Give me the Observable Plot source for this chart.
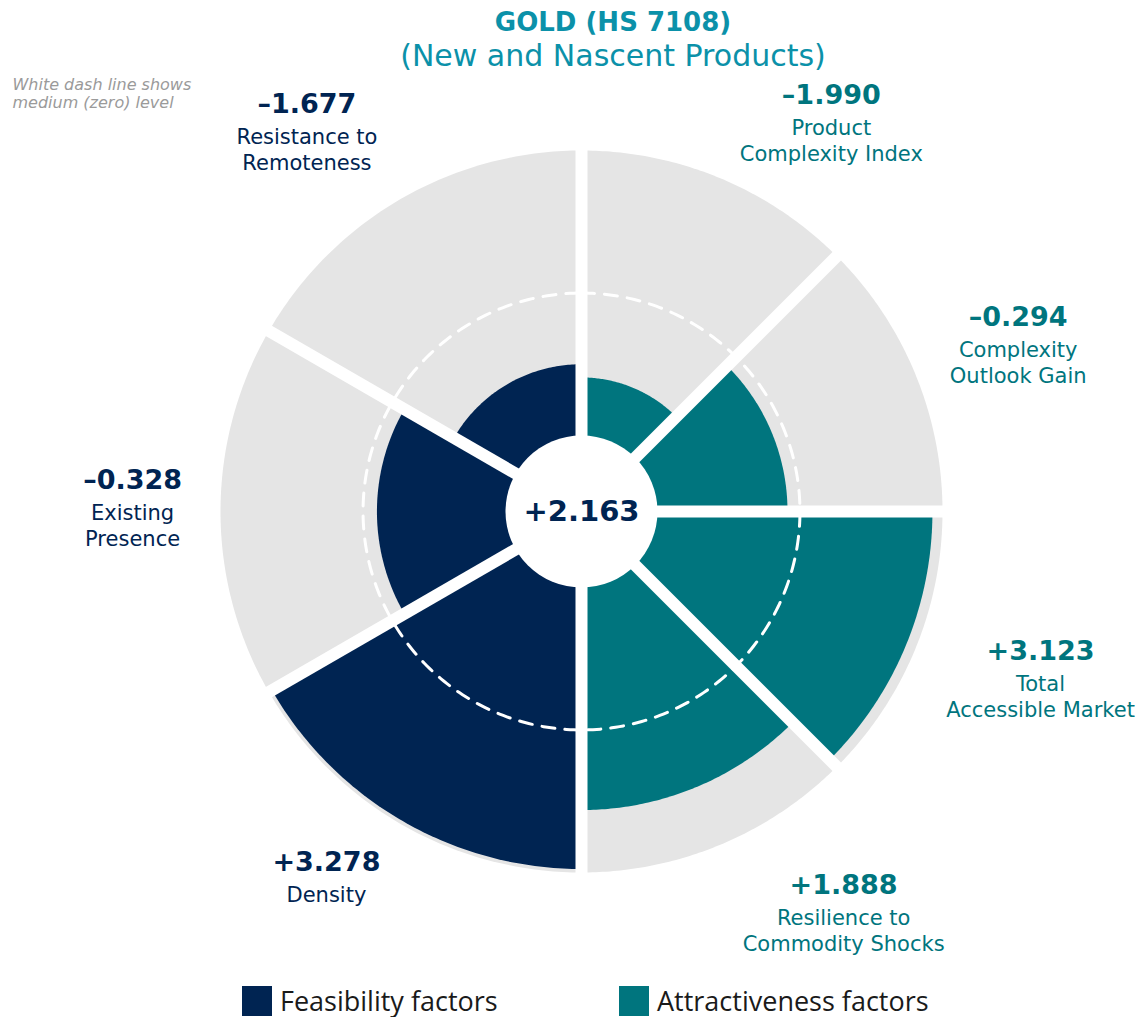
<!DOCTYPE html>
<html>
<head>
<meta charset="utf-8">
<script src="https://cdn.jsdelivr.net/npm/d3@7"></script>
<script src="https://cdn.jsdelivr.net/npm/@observablehq/plot@0.6"></script>
<style>
  html, body { margin: 0; padding: 0; background: #fff; }
  body { width: 1138px; height: 1017px; overflow: hidden; position: relative; font-family: "DejaVu Sans", sans-serif; }
  #title { position: absolute; top: 5px; left: 0; width: 1138px; box-sizing: border-box; padding-left: 88px; text-align: center; color: #0b91a9; }
  #title .t1 { font-weight: bold; font-size: 26px; line-height: 34px; }
  #title .t2 { font-size: 30px; line-height: 34px; }
  #chart { position: absolute; top: 76px; left: 0; }
  #legend { position: absolute; top: 986px; left: 0; width: 1138px; height: 30px; }
  .item { position: absolute; top: 0; height: 30px; display: flex; align-items: center; }
  .swatch { width: 30px; height: 30px; margin-right: 8px; }
  .label { font-family: "Open Sans", sans-serif; font-size: 27px; line-height: 28px; color: #1a1a1a; white-space: nowrap; }
</style>
</head>
<body>
<div id="title"></div>
<div id="chart"></div>
<div id="legend"></div>
<script>
// ---------- data ----------
const productTitle = "GOLD (HS 7108)";
const productSubtitle = "(New and Nascent Products)";
const factors = [
  "Product Complexity Index",
  "Complexity Outlook Gain",
  "Total Accessible Market",
  "Resilience to Commodity Shocks",
  "Density",
  "Existing Presence",
  "Resistance to Remoteness"
];
const factorLabels = [
  "Product\nComplexity Index",
  "Complexity\nOutlook Gain",
  "Total\nAccessible Market",
  "Resilience to\nCommodity Shocks",
  "Density",
  "Existing\nPresence",
  "Resistance to\nRemoteness"
];
const factorValues = [-1.990, -0.294, 3.123, 1.888, 3.278, -0.328, -1.677];
const factorGroups = [
  "Attractiveness factors", "Attractiveness factors", "Attractiveness factors", "Attractiveness factors",
  "Feasibility factors", "Feasibility factors", "Feasibility factors"
];
const groupNames = ["Feasibility factors", "Attractiveness factors"];
const groupColors = ["#002452", "#00757e"];
const overallScore = 2.163;
const noteLines = ["White dash line shows", "medium (zero) level"];

// ---------- layout (not data) ----------
const labelAngle = [31, 66, 107, 145, 216, 274, 326];   // degrees clockwise from top
const labelDist  = [485, 478, 480, 457, 434, 450, 491]; // px from centre
const W = 1138, H = 900, CX = 581, CY = 435;

// ---------- helpers ----------
const fmt = v => (v >= 0 ? "+" : "\u2013") + Math.abs(v).toFixed(3);
const rad = d => d * Math.PI / 180;
const r = d3.scaleLinear().domain([-5.15, 3.36]).range([0, 361]);
const rMax = r.range()[1];

// sector angles: each group takes a half circle, split equally
const groupOrder = ["Attractiveness factors", "Feasibility factors"];
const sectors = [];
let start = 0;
for (const g of groupOrder) {
  const idx = factors.map((_, i) => i).filter(i => factorGroups[i] === g);
  const step = 180 / idx.length;
  idx.forEach(i => { sectors[i] = {a0: start, a1: start + step}; start += step; });
}
const boundaries = Array.from(new Set(sectors.flatMap(s => [s.a0, s.a1 % 360])));

function wedge(i, radius) {
  const {a0, a1} = sectors[i];
  const pts = [{x: 0, y: 0, k: i, g: factorGroups[i]}];
  const n = 80;
  for (let j = 0; j <= n; j++) {
    const a = rad(a0 + (a1 - a0) * j / n);
    pts.push({x: radius * Math.sin(a), y: radius * Math.cos(a), k: i, g: factorGroups[i]});
  }
  return pts;
}
const bgPts = factors.flatMap((_, i) => wedge(i, rMax));
const barPts = factors.flatMap((_, i) => wedge(i, r(factorValues[i])));
const zeroPts = d3.range(0, 360, 1).map(a => ({x: r(0) * Math.sin(rad(a)), y: r(0) * Math.cos(rad(a))}));

const labels = factors.map((f, i) => ({
  x: labelDist[i] * Math.sin(rad(labelAngle[i])),
  y: labelDist[i] * Math.cos(rad(labelAngle[i])),
  value: fmt(factorValues[i]),
  name: factorLabels[i],
  g: factorGroups[i]
}));

// ---------- title ----------
document.getElementById("title").innerHTML =
  `<div class="t1">${productTitle}</div><div class="t2">${productSubtitle}</div>`;

// ---------- chart ----------
const chart = Plot.plot({
  width: W,
  height: H,
  margin: 0,
  style: {background: "white", fontFamily: "DejaVu Sans, sans-serif"},
  x: {domain: [-CX, W - CX], axis: null},
  y: {domain: [-(H - CY), CY], axis: null},
  color: {domain: groupNames, range: groupColors},
  marks: [
    Plot.line(bgPts, {x: "x", y: "y", z: "k", fill: "#e5e5e5", stroke: "none", curve: "linear-closed"}),
    Plot.line(barPts, {x: "x", y: "y", z: "k", fill: "g", stroke: "none", curve: "linear-closed"}),
    Plot.line(zeroPts, {x: "x", y: "y", stroke: "white", strokeWidth: 3, strokeDasharray: "13,10", curve: "linear-closed"}),
    Plot.link(boundaries, {
      x1: () => 0, y1: () => 0,
      x2: a => (rMax + 20) * Math.sin(rad(a)),
      y2: a => (rMax + 20) * Math.cos(rad(a)),
      stroke: "white", strokeWidth: 12
    }),
    Plot.dot([overallScore], {x: () => 0, y: () => 0, r: 76, fill: "white", stroke: "none"}),
    Plot.text([overallScore], {x: () => 0, y: () => 0, text: d => fmt(d), fontSize: 29, fontWeight: "bold", fill: groupColors[0], lineAnchor: "middle"}),
    Plot.text(labels, {x: "x", y: "y", text: "value", fill: "g", fontSize: 27, fontWeight: "bold", lineAnchor: "middle"}),
    Plot.text(labels, {x: "x", y: "y", text: "name", fill: "g", fontSize: 21, lineHeight: 1.24, lineAnchor: "top", dy: 21}),
    Plot.text([noteLines.join("\n")], {
      frameAnchor: "top-left", text: d => d, textAnchor: "start", lineAnchor: "top",
      dx: 12, dy: 0, fontSize: 16, fontStyle: "italic", fill: "#9a9a9a", lineHeight: 1.15
    })
  ]
});
document.getElementById("chart").append(chart);

// ---------- legend ----------
const legendLeft = [242, 619];
const legend = document.getElementById("legend");
groupNames.forEach((g, i) => {
  const item = document.createElement("div");
  item.className = "item";
  item.style.left = legendLeft[i] + "px";
  item.innerHTML = `<div class="swatch" style="background:${groupColors[i]}"></div><div class="label">${g}</div>`;
  legend.append(item);
});
</script>
</body>
</html>
